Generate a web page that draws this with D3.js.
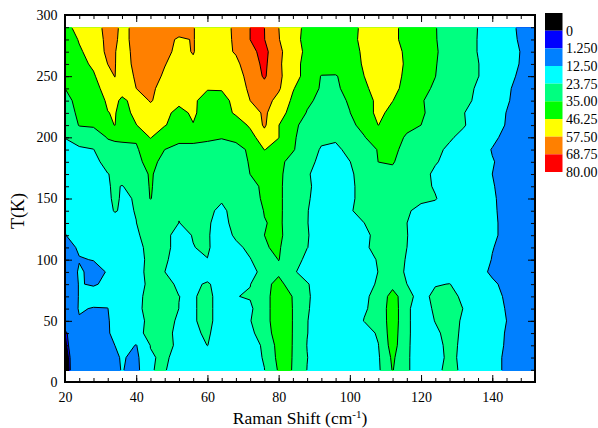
<!DOCTYPE html>
<html>
<head>
<meta charset="utf-8">
<script src="https://cdn.jsdelivr.net/npm/d3@7"></script>
<style>
  html, body { margin: 0; background: #fff; }
  svg { display: block; }
  text { font-family: "Liberation Serif", serif; fill: #000; }
</style>
</head>
<body>
<svg width="598" height="428"></svg>
<script>
// grid positions
const ramanShift = [20, 24, 28, 32, 34, 36, 40, 44, 48, 52, 56, 60, 64, 68, 72, 76, 80, 84, 88, 92, 96, 100, 104, 108, 112, 116, 120, 124, 128, 132, 136, 140, 144, 148, 152];
const temperature = [290, 280, 270, 260, 250, 240, 230, 220, 210, 200, 190, 180, 170, 160, 150, 140, 130, 120, 110, 100, 90, 80, 70, 60, 50, 40, 30, 20, 9];

// intensity at each temperature
const t290 = [42,51,54,60,59,56,59,63,64,63,58,52,55,58.8,68.8,68.8,57.6,50,43.8,40,39,43,48.4,54,50,41,38,35.3,32,28,23.6,19,15,11.2,10];
const t280 = [40,47,52,60,59,55,60,64,61,56,58,52,54,59,68.8,69,58,50,43,40,38,43,49,54,50,41,38,35.5,31,27,23.5,19,15.5,11.5,10];
const t270 = [39,45,50,60,58,54,60,63,60,55,58,52,54,58.5,66,72,60,51,44,41,39,42,48,55,53,43,39,36,31,27,23.5,19,15.5,12.3,10];
const t260 = [38,43,48,57.6,58,53,60,62,58,53,56,51,52,55,64,71,59.5,50,43,41,39,41,47.5,52,53,44,38,35.5,31,27,24,20,16,12,10];
const t250 = [37,40,45,54,57.8,51,59,62,56,51,54,50,50,52,62,70,60,50,43,34.5,34.5,38,46.2,52,52,43,38,35.1,31,27,24,20,16,10.5,9];
const t240 = [35,38,43,50,54,51,57.5,60,53,49,50,47,47,50,60,65,59,47,40,34,34,37,44,51,50,42,37,34,30,27,22.5,19,14,9.5,8.5];
const t230 = [33,37,41,47.5,49,44,50,58.5,52,49,48,42,43,49,57.5,62,54,44.5,36.5,33,32,36,42,48.5,46.5,40,36,31,28,26,22,18,13.5,9,8];
const t220 = [30,37,38,46,47,42,49,52,49,43,48,41,41,48,53,59,52,41,34.5,30,31,34.8,41,49,43,38,37,30,28,24,20,17,12.3,8.5,8];
const t210 = [27,35.5,36,44,46.5,40,46,52,47,41,45.8,40,38,40,48,59,46.5,37,32,27,28,33.5,37,46.4,40,37,35,29,27,24.5,19,16,12,8,7.5];
const t200 = [24,29,30.5,35.5,36,36,35.5,47,38,37,36.5,36,35.2,36.5,42,53,46.5,36.5,30,25.5,25,29,34.6,39,38.5,34,31,28,25,21,18,15,9.5,7.5,7];
const t190 = [21,22,23.5,32,33,33.5,34.5,37.5,35,33,33.5,33,33.5,33,36,46.5,43,36,28,23,22,26,31,35.5,38,31,29,26,22,19,17,12,9,7,6.5];
const t180 = [19,20,21,27,28,29,33.5,37,33,30,29,29,29.5,29.5,36,40,38,31,26,22,22,23.6,28,35.1,36,29,28,24.5,21,19,16.5,13,10,7,6];
const t170 = [18,19,20,23.5,25,27,30,36,31,29,28,28,28,28,35.1,38,38,28,24.5,21,21,22.5,27,30,32,28,27,22,20,18,16,12.5,10,7,6];
const t160 = [17,18,19,23.3,24.5,23.5,26,36,29,28,27,26,26,27,32,37,37.5,28,25,21,21,22.5,26,29.5,31,28,26,23,20,18,16,13,10,7,6];
const t150 = [16,17,18.5,22.5,25,23,24.1,35.5,28,27,26.5,25,24.5,26,30,37,37.5,28,24.5,21,21,22.5,26,29,31,29,25,24.2,20,18,16,13.5,10,7.5,6];
const t140 = [15,17,18,22,24.2,23,23.9,26.5,26,24,26,25,22.5,26,28,35.5,37.5,28,24,21,20.5,23,26.5,29,31,24.5,22,21,19.5,18,16,13.5,10.5,8,6];
const t130 = [13,16,18,20,21,21.5,23.7,26,27,23.7,24.5,24.3,22,25.5,28,34.5,37,29,24,20,19.5,20,23.7,27,30,23.8,21,20,19,18,16,13.5,11,8,6];
const t120 = [12.3,15,17,18,19,20,23,26,25,22,24,24.5,20,25,28,35,37,30,24.3,20,18.5,19.5,22,26,30,24,20,19,18,17,15,13.5,11,8.5,6];
const t110 = [11,13,16,18,18.5,19,22,25.5,25,22,23.6,24.6,20,22,25.5,34.5,36,29,24,19.5,18,18.5,22,27,30,23.8,20,18.5,17.5,16.5,15,12.7,11,9,7];
const t100 = [10,12.3,12.6,16,18,19,20.5,26,25,20,21,23.6,20,21,23.4,28,35.3,29,21,19,18,18,20,24.5,29,23,19.5,18.5,17.5,16.5,15,12.3,10.5,9,7];
const t90 = [9,13,11.5,12.7,16,18,20,27,23.8,20,20.5,20.5,20,20,21.5,26,32,25,20,18,18,18,19.5,23.9,30,22,19,18,17,16,14.5,11.5,10,9,7];
const t80 = [8,12.8,12,13.5,16,18,20,26,26,22.5,22.5,24.5,21,20,23.5,30,40,27,24.5,19,18,18,20,25,31,23.8,20,23,24,20,17,13.5,11,9.5,8];
const t70 = [8,12.8,15,16,17,18.5,21,27,29,23.8,23,26,20,23.5,24.5,31,41,34.6,25,19.5,19,19,22.5,26,40,27,20,26.5,28,21,18,15,11.5,10,8];
const t60 = [7,13,12.2,12.3,17,18.5,21.5,27,29,23.7,23,26,20,20.5,22,31,41,34.8,24.5,20,19,19,23,26,42,25,20,25,27,23.5,19,16,12,10,8];
const t50 = [6,12,11.5,11.5,16,18.5,22,25,28,22,23,26,20,20,23.3,31,41,34.8,24,20,19,19,24,25.5,42,25,20,24,27,22.5,18.5,16,12.5,10.5,8];
const t40 = [0,8,9,11.5,15,18,22,25.5,27,21,22.5,24.8,20,19.5,21,30,40,34.8,24,19,18,18,19.5,25,41,25,20,22.5,26,22.5,18,15.5,12,10.5,8];
const t30 = [-1,8,8.5,10,12.5,17,12,24,26.5,22,20,23.9,19.5,19,20.5,25,39,34.8,23.5,18.5,17,17,19,23.5,40,25,19.5,21,26,22,17,14.5,12,10.5,8];
const t20 = [-2.5,8,8.5,9,10.5,13.5,10,23,25,21,19.5,19,18.5,18.5,20,24.5,38,34.8,24,18,16.5,16.5,18,22.5,37,25,19,20,26,21.5,17,14.5,11.5,10.5,8];
const t9 = [-4,10,9,9,10,13,9,23.6,24.2,20,19,18.5,18,18,19.5,23.5,36,34.9,23.5,17.5,16,16,17.5,22,35.5,25,19,21,27,21.5,16.5,14.5,11.5,10,8];
const intensity = [t290, t280, t270, t260, t250, t240, t230, t220, t210, t200, t190, t180, t170, t160, t150, t140, t130, t120, t110, t100, t90, t80, t70, t60, t50, t40, t30, t20, t9];

// levels and legend
const levels = [-1e6, 0, 1.25, 12.5, 23.75, 35, 46.25, 57.5, 68.75];
const levelColors = ['#000000', '#0000ff', '#0080ff', '#00ffff', '#00ff80', '#00ff00', '#ffff00', '#ff8000', '#ff0000'];
const legendLabels = ['0', '1.250', '12.50', '23.75', '35.00', '46.25', '57.50', '68.75', '80.00'];
const xMajor = [20, 40, 60, 80, 100, 120, 140];
const yMajor = [0, 50, 100, 150, 200, 250, 300];

const svg = d3.select('svg');
const plotLeft = 65, plotRight = 535, plotTop = 15, plotBottom = 382;
const x = d3.scaleLinear().domain([20, 152]).range([plotLeft, plotRight]);
const y = d3.scaleLinear().domain([0, 300]).range([plotBottom, plotTop]);

// grid index -> data value, the columns are not evenly spaced
const colToX = d3.scaleLinear().domain(d3.range(ramanShift.length)).range(ramanShift).clamp(true);
const rowToT = d3.scaleLinear().domain(d3.range(temperature.length)).range(temperature).clamp(true);

const contours = d3.contours()
  .size([ramanShift.length, temperature.length])
  .thresholds(levels)(intensity.flat());

const path = d3.geoPath(d3.geoTransform({
  point(u, v) {
    this.stream.point(x(colToX(u - 0.5)), y(rowToT(v - 0.5)));
  }
}));

svg.append('defs').append('clipPath').attr('id', 'inner')
  .append('rect')
  .attr('x', plotLeft + 1).attr('y', y(290) + 1)
  .attr('width', plotRight - plotLeft - 2).attr('height', y(9) - y(290) - 2);

svg.append('g').selectAll('path').data(contours).join('path')
  .attr('d', path)
  .attr('fill', (d, i) => levelColors[i])
  .attr('stroke', 'none');

// lines are clipped so the edge of the data grid gets no outline
svg.append('g').attr('clip-path', 'url(#inner)')
  .selectAll('path').data(contours.slice(1)).join('path')
  .attr('d', path)
  .attr('fill', 'none')
  .attr('stroke', '#000')
  .attr('stroke-width', 1);

function drawAxis(axis, tx, ty) {
  const g = svg.append('g').attr('transform', `translate(${tx},${ty})`).call(axis);
  g.select('.domain').remove();
  g.selectAll('text').style('font-size', '14px').style('font-family', '"Liberation Serif", serif');
  return g;
}
const xMinor = d3.range(20, 153, 4);
const yMinor = d3.range(0, 301, 10);
const noLabel = () => '';

drawAxis(d3.axisBottom(x).tickValues(xMinor).tickSize(-4).tickFormat(noLabel), 0, plotBottom);
drawAxis(d3.axisTop(x).tickValues(xMinor).tickSize(-4).tickFormat(noLabel), 0, plotTop);
drawAxis(d3.axisLeft(y).tickValues(yMinor).tickSize(-4).tickFormat(noLabel), plotLeft, 0);
drawAxis(d3.axisRight(y).tickValues(yMinor).tickSize(-4).tickFormat(noLabel), plotRight, 0);
drawAxis(d3.axisBottom(x).tickValues(xMajor).tickSize(-7).tickPadding(10), 0, plotBottom);
drawAxis(d3.axisTop(x).tickValues(xMajor).tickSize(-7).tickFormat(noLabel), 0, plotTop);
drawAxis(d3.axisLeft(y).tickValues(yMajor).tickSize(-7).tickPadding(7.5), plotLeft, 0);
drawAxis(d3.axisRight(y).tickValues(yMajor).tickSize(-7).tickFormat(noLabel), plotRight, 0);

svg.append('rect')
  .attr('x', plotLeft).attr('y', plotTop)
  .attr('width', plotRight - plotLeft).attr('height', plotBottom - plotTop)
  .attr('fill', 'none').attr('stroke', '#000').attr('stroke-width', 2);

// titles
const xTitle = svg.append('text')
  .attr('x', 300).attr('y', 424)
  .attr('text-anchor', 'middle')
  .style('font-size', '17.5px');
xTitle.append('tspan').text('Raman Shift (cm');
xTitle.append('tspan').attr('dy', -6).style('font-size', '11px').text('-1');
xTitle.append('tspan').attr('dy', 6).text(')');

svg.append('text')
  .attr('transform', 'translate(24,211) rotate(-90)')
  .attr('text-anchor', 'middle')
  .style('font-size', '18px')
  .text('T(K)');

// legend
const legendY = d3.scaleBand().domain(d3.range(levelColors.length)).range([13, 172]);
svg.append('g').selectAll('rect').data(levelColors).join('rect')
  .attr('x', 545).attr('y', (d, i) => legendY(i))
  .attr('width', 17.5).attr('height', legendY.bandwidth())
  .attr('fill', d => d);
svg.append('g').selectAll('text').data(legendLabels).join('text')
  .attr('x', 566).attr('y', (d, i) => legendY(i) + legendY.bandwidth() + 5)
  .style('font-size', '14px')
  .text(d => d);
</script>
</body>
</html>
